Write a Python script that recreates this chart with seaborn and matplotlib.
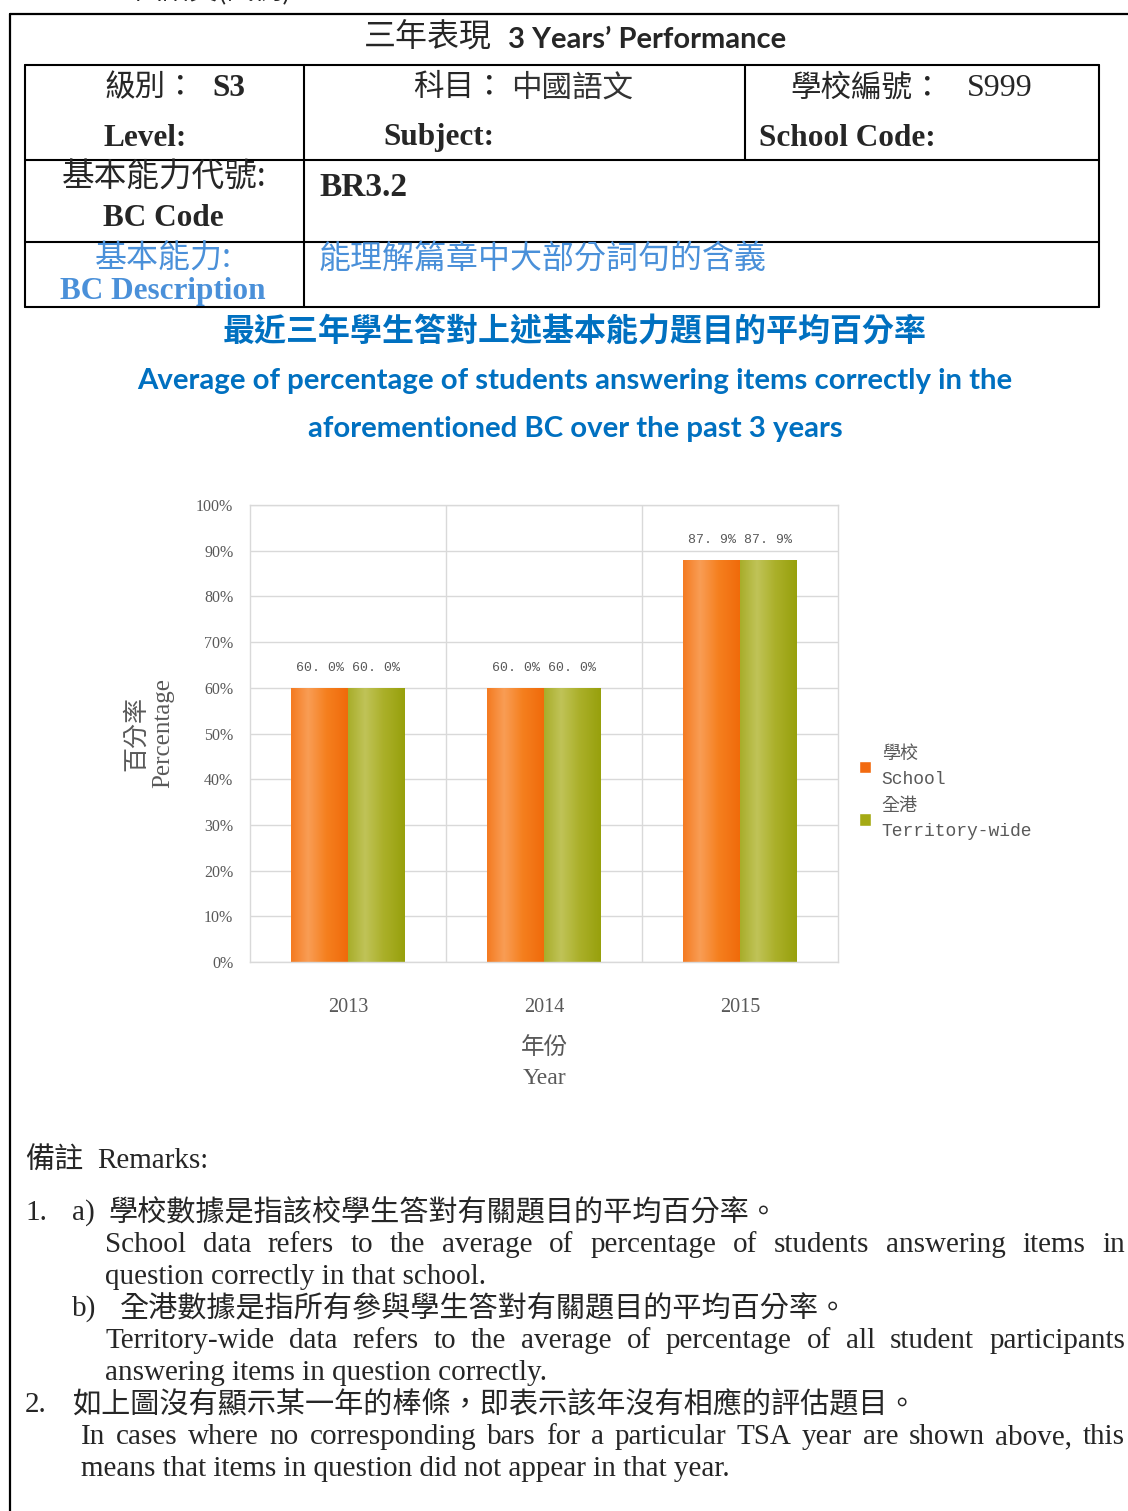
import matplotlib
matplotlib.use("Agg")
import matplotlib.pyplot as plt
import seaborn as sns
import numpy as np
import pandas as pd
from matplotlib.colors import LinearSegmentedColormap
from matplotlib.lines import Line2D
from matplotlib.ticker import FuncFormatter

# ---------------- data ----------------
years = ["2013", "2014", "2015"]
series_names = ["學校\nSchool", "全港\nTerritory-wide"]
school_values = [0.600, 0.600, 0.879]
territory_values = [0.600, 0.600, 0.879]
y_ticks = [0.0, 0.1, 0.2, 0.3, 0.4, 0.5, 0.6, 0.7, 0.8, 0.9, 1.0]

df = pd.DataFrame({
    "Year": years * 2,
    "Series": [series_names[0]] * 3 + [series_names[1]] * 3,
    "Value": school_values + territory_values,
})

W, H = 1128, 1511
sns.set_theme(style="white")
plt.rcParams['font.family'] = ['Liberation Serif', 'Noto Sans CJK TC']

fig = plt.figure(figsize=(W / 100, H / 100), dpi=100)


def fx(x):
    return x / W


def fy(y):
    return 1 - y / H


def txt(x, y, s, ha="left", va="center", **kw):
    return fig.text(fx(x), fy(y), s, ha=ha, va=va, **kw)


def hline(x0, x1, y, lw=1.5, color="black"):
    fig.add_artist(Line2D([fx(x0), fx(x1)], [fy(y), fy(y)], lw=lw, color=color,
                          transform=fig.transFigure))


def vline(x, y0, y1, lw=1.5, color="black"):
    fig.add_artist(Line2D([fx(x), fx(x)], [fy(y0), fy(y1)], lw=lw, color=color,
                          transform=fig.transFigure))


SERIF_CJK = ['Liberation Serif', 'Noto Sans CJK TC']
CJK = ['Noto Sans CJK TC', 'Liberation Serif']
LATO = ['Lato', 'DejaVu Sans']
BLUE = "#0070C0"
LBLUE = "#4A90D9"
GRAY = "#595959"

# ---------------- outer frame ----------------
hline(10, 1128, 14, lw=1.6)
vline(10, 14, 1511, lw=1.6)
txt(135, -9, "國語文(試例)", family=CJK, fontsize=20, va="center")

# ---------------- title ----------------
txt(364, 38, "三年表現", family=CJK, fontsize=23)
txt(508, 40, "3 Years\u2019 Performance", family=LATO, fontweight="bold", fontsize=21)

# ---------------- table ----------------
hline(25, 1099, 65)
hline(25, 1099, 160)
hline(25, 1099, 242)
hline(25, 1099, 307)
vline(25, 65, 307)
vline(1099, 65, 307)
vline(304, 65, 307)
vline(745, 65, 160)

txt(104, 88, "級別：", family=CJK, fontsize=22)
txt(212, 89, "S3", family=SERIF_CJK, fontweight="bold", fontsize=22.5)
txt(104, 138, "Level:", family=SERIF_CJK, fontweight="bold", fontsize=22.5)
txt(413, 88, "科目：", family=CJK, fontsize=22)
txt(511, 88, "中國語文", family=CJK, fontsize=22, color="#333333")
txt(383, 138, "Subject:", family=SERIF_CJK, fontweight="bold", fontsize=22.5)
txt(790, 88, "學校編號：", family=CJK, fontsize=22)
txt(967, 89, "S999", family=SERIF_CJK, fontsize=23)
txt(759, 138, "School Code:", family=SERIF_CJK, fontweight="bold", fontsize=22.5)

txt(62, 178, "基本能力代號:", family=CJK, fontsize=23.5)
txt(103, 218, "BC Code", family=SERIF_CJK, fontweight="bold", fontsize=22.5)
txt(319, 187, "BR3.2", family=SERIF_CJK, fontweight="bold", fontsize=24)

txt(95, 259, "基本能力:", family=CJK, fontsize=23, color=LBLUE)
txt(60, 291, "BC Description", family=SERIF_CJK, fontweight="bold", fontsize=22.5, color=LBLUE)
txt(319, 259, "能理解篇章中大部分詞句的含義", family=CJK, fontsize=23, color=LBLUE)

# ---------------- blue heading ----------------
txt(575, 333, "最近三年學生答對上述基本能力題目的平均百分率", ha="center", family=CJK,
    fontweight="bold", fontsize=23, color=BLUE)
txt(575, 381, "Average of percentage of students answering items correctly in the",
    ha="center", family=LATO, fontweight="bold", fontsize=21.2, color=BLUE)
txt(575, 429, "aforementioned BC over the past 3 years",
    ha="center", family=LATO, fontweight="bold", fontsize=21.2, color=BLUE)

# ---------------- chart ----------------
ax_l, ax_r, ax_t, ax_b = 250, 838, 505, 962
ax = fig.add_axes([fx(ax_l), fy(ax_b), (ax_r - ax_l) / W, (ax_b - ax_t) / H])

orange = "#F26A10"
green = "#A5AA14"
sns.barplot(data=df, x="Year", y="Value", hue="Series", palette=[orange, green],
            width=0.58, saturation=1, ax=ax, errorbar=None)

cmaps = [
    LinearSegmentedColormap.from_list("o", [(0, "#F47A20"), (0.3, "#F99D55"),
                                            (0.62, "#F5801F"), (1, "#F06A0A")]),
    LinearSegmentedColormap.from_list("g", [(0, "#A8AD2A"), (0.3, "#C0C358"),
                                            (0.62, "#ABB02A"), (1, "#97A00C")]),
]
grad = np.linspace(0, 1, 256).reshape(1, -1)
for ci, cont in enumerate(ax.containers):
    for p in cont.patches:
        p.set_edgecolor("none")
        x0, y0, w, h = p.get_x(), p.get_y(), p.get_width(), p.get_height()
        im = ax.imshow(grad, extent=[x0, x0 + w, y0, y0 + h], aspect="auto",
                       cmap=cmaps[ci], zorder=p.get_zorder() + 0.1, interpolation="bicubic")
        im.set_clip_path(p)
    labels = [f"{v * 100:.1f}%".replace(".", ". ") for v in cont.datavalues]
    ax.bar_label(cont, labels=labels, padding=10, family=['Liberation Mono', 'DejaVu Sans Mono'],
                 fontsize=9.5, color=GRAY)

ax.set_xlim(-0.5, 2.5)
ax.set_ylim(0, 1)
ax.set_aspect("auto")
ax.set_yticks(y_ticks)
ax.yaxis.set_major_formatter(FuncFormatter(lambda v, _: f"{v * 100:.0f}%"))
ax.set_xticks(range(len(years)))
ax.set_xticklabels(years)
ax.set_xticks([0.5, 1.5], minor=True)
ax.tick_params(axis="both", which="both", length=0)
ax.tick_params(axis="y", labelsize=11.5, labelcolor=GRAY, pad=12)
ax.tick_params(axis="x", labelsize=14.5, labelcolor=GRAY, pad=26)
for lab in ax.get_yticklabels() + ax.get_xticklabels():
    lab.set_family(['Liberation Serif', 'DejaVu Serif'])
ax.grid(True, axis="y", which="major", color="#D9D9D9", lw=1)
ax.grid(True, axis="x", which="minor", color="#D9D9D9", lw=1)
ax.grid(False, axis="x", which="major")
ax.set_axisbelow(True)
for s in ax.spines.values():
    s.set_color("#D9D9D9")
    s.set_linewidth(1)

ax.set_xlabel("年份\nYear", family=SERIF_CJK, fontsize=17, color=GRAY, labelpad=14, linespacing=1.6)
ax.set_ylabel("百分率\nPercentage", family=SERIF_CJK, fontsize=18, color=GRAY, linespacing=1.2)
ax.yaxis.set_label_coords(-(ax_l - 174) / (ax_r - ax_l), 0.5)

handles, labs = ax.get_legend_handles_labels()
if ax.get_legend() is not None:
    ax.get_legend().remove()
leg = ax.legend(handles, labs, loc="center left",
                bbox_to_anchor=((852 - ax_l) / (ax_r - ax_l), (ax_b - 793) / (ax_b - ax_t)),
                frameon=False, prop={"family": ['Liberation Mono', 'Noto Sans CJK TC'], "size": 13},
                handlelength=0.65, handleheight=0.65, handletextpad=0.6, labelspacing=0.6,
                borderaxespad=0)
for t in leg.get_texts():
    t.set_color(GRAY)
    t.set_linespacing(1.6)

# ---------------- remarks ----------------
RM = 21
CJK_RM = 21


def justify(x0, x1, y, s, **kw):
    words = s.split()
    texts = [txt(0, y, w_, **kw) for w_ in words]
    r = fig.canvas.get_renderer()
    widths = [t.get_window_extent(r).width for t in texts]
    gap = (x1 - x0 - sum(widths)) / (len(words) - 1)
    x = x0
    for t, w_ in zip(texts, widths):
        t.set_x(fx(x))
        x += w_ + gap


txt(25, 1161, "備註", family=CJK, fontsize=CJK_RM)
txt(97, 1161, "Remarks:", family=SERIF_CJK, fontsize=RM)

txt(25, 1213, "1.", family=SERIF_CJK, fontsize=RM)
txt(72, 1213, "a)", family=SERIF_CJK, fontsize=RM)
txt(108, 1213, "學校數據是指該校學生答對有關題目的平均百分率。", family=CJK, fontsize=CJK_RM)
justify(105, 1125, 1245, "School data refers to the average of percentage of students answering items in",
        family=SERIF_CJK, fontsize=RM)
txt(105, 1277, "question correctly in that school.", family=SERIF_CJK, fontsize=RM)

txt(72, 1309, "b)", family=SERIF_CJK, fontsize=RM)
txt(120, 1309, "全港數據是指所有參與學生答對有關題目的平均百分率。", family=CJK, fontsize=CJK_RM)
justify(105, 1125, 1341, "Territory-wide data refers to the average of percentage of all student participants",
        family=SERIF_CJK, fontsize=RM)
txt(105, 1373, "answering items in question correctly.", family=SERIF_CJK, fontsize=RM)

txt(25, 1405, "2.", family=SERIF_CJK, fontsize=RM)
txt(72, 1405, "如上圖沒有顯示某一年的棒條，即表示該年沒有相應的評估題目。", family=CJK, fontsize=CJK_RM)
justify(81, 1125, 1437, "In cases where no corresponding bars for a particular TSA year are shown above, this",
        family=SERIF_CJK, fontsize=RM)
txt(81, 1469, "means that items in question did not appear in that year.", family=SERIF_CJK, fontsize=RM)

fig.savefig("out.png", dpi=100)
